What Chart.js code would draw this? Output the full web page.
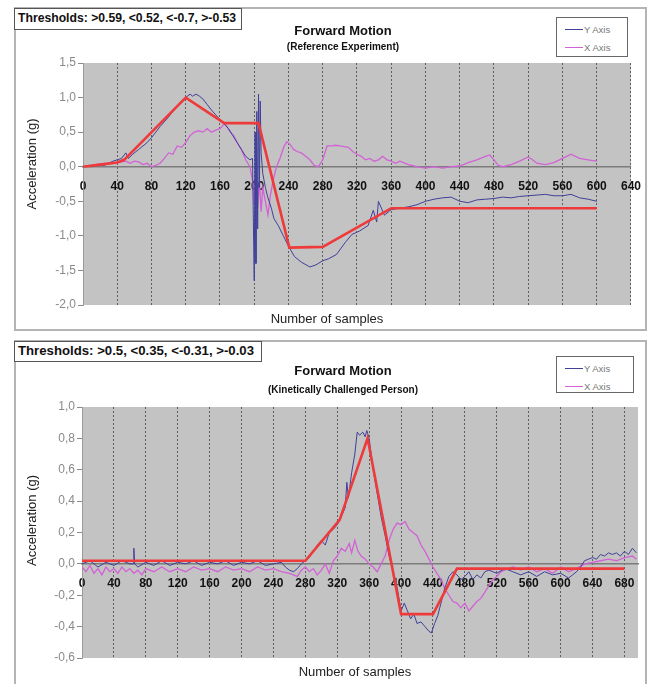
<!DOCTYPE html>
<html>
<head>
<meta charset="utf-8">
<script src="https://cdn.jsdelivr.net/npm/chart.js@4.4.0/dist/chart.umd.min.js"></script>
<style>
  body { margin: 0; background: #fff; width: 654px; height: 684px; position: relative; overflow: hidden;
         font-family: "Liberation Sans", Arial, sans-serif; }
  .panel { position: absolute; border: 2px solid #b4b4b4; box-sizing: border-box; }
  .wrap { position: absolute; }
  .thr { position: absolute; background: #fff; border: 1px solid #555; box-sizing: border-box;
         font-weight: bold; color: #111; white-space: nowrap; padding: 2px 0 0 3px; }
  .legend { position: absolute; background: #fff; border: 1px solid #666; box-sizing: border-box;
            padding: 2px 0 0 8px; font-size: 9.5px; color: #777; }
  .legend div { display: flex; align-items: center; height: 18px; }
  .legend .sw { display: inline-block; width: 18px; height: 0; border-top: 1px solid; margin-right: 1px; }
</style>
</head>
<body>
<div class="panel" style="left:14px;top:7px;width:633px;height:324px"></div>
<div class="panel" style="left:14px;top:340px;width:633px;height:360px"></div>

<div class="wrap" style="left:20px;top:10px;width:634px;height:320px"><canvas id="chartTop"></canvas></div>
<div class="wrap" style="left:20px;top:345px;width:634px;height:339px"><canvas id="chartBottom"></canvas></div>

<div class="thr" style="left:14px;top:8px;width:228px;height:22px;font-size:12.2px">Thresholds: &gt;0.59, &lt;0.52, &lt;-0.7, &gt;-0.53</div>
<div class="thr" style="left:14px;top:341px;width:248px;height:21px;font-size:13.2px;padding-top:1px">Thresholds: &gt;0.5, &lt;0.35, &lt;-0.31, &gt;-0.03</div>

<div class="legend" id="legendTop" style="left:556px;top:17px;width:72px;height:40px"></div>
<div class="legend" id="legendBottom" style="left:556px;top:356px;width:78px;height:37px"></div>

<script>
// Forward motion accelerometer traces, two experiments

// --- reference experiment (top) ---
const topYAxisX = [0, 5, 10, 15, 20, 25, 30, 35, 40, 45, 50, 53, 58, 65, 70, 75, 80, 85, 90, 95,
  100, 105, 110, 115, 120, 125, 128, 132, 136, 140, 145, 150, 155, 160, 165, 170, 175, 180, 185, 190,
  195, 198, 199, 200, 201, 202, 203, 204, 205, 206, 207, 208, 210, 213, 216, 220, 223, 228, 234, 240,
  247, 255, 265, 272, 280, 287, 296, 306, 314, 323, 333, 339, 343, 345, 352, 360, 370, 380, 390, 400,
  410, 420, 430, 440, 450, 460, 470, 480, 490, 500, 510, 520, 530, 540, 550, 560, 570, 580, 590, 600];
const topYAxisY = [0.0, 0.01, 0.0, 0.02, 0.03, 0.02, 0.05, 0.08, 0.1, 0.12, 0.2, 0.12, 0.18, 0.25, 0.3, 0.35, 0.42, 0.5, 0.58, 0.65,
  0.72, 0.8, 0.88, 0.95, 1.0, 1.05, 1.02, 1.05, 1.02, 0.98, 0.9, 0.82, 0.75, 0.68, 0.62, 0.55, 0.45, 0.35, 0.25, 0.15,
  0.1, 0.12, -0.8, -1.65, 0.5, -1.4, 0.8, -0.9, 1.05, -0.3, 0.95, 0.2, -0.1, -0.3, -0.45, -0.6, -0.75, -0.85, -1.0, -1.15,
  -1.3, -1.38, -1.45, -1.42, -1.36, -1.33, -1.27, -1.1, -0.98, -0.93, -0.85, -0.63, -0.8, -0.5, -0.7, -0.62, -0.6, -0.58, -0.55, -0.5,
  -0.47, -0.45, -0.44, -0.5, -0.52, -0.48, -0.47, -0.46, -0.44, -0.45, -0.43, -0.42, -0.41, -0.4, -0.42, -0.42, -0.4, -0.45, -0.47, -0.5];

const topXAxisX = [0, 10, 20, 30, 40, 50, 55, 60, 65, 70, 75, 80, 85, 90, 95, 100, 105, 110, 115, 120,
  125, 130, 135, 140, 145, 150, 155, 160, 165, 168, 172, 176, 180, 185, 190, 195, 198, 200, 202, 204,
  206, 208, 210, 213, 216, 219, 222, 226, 230, 235, 238, 242, 246, 250, 255, 260, 265, 270, 275, 280,
  285, 290, 295, 300, 305, 310, 315, 320, 325, 330, 335, 340, 345, 350, 355, 360, 365, 370, 380, 390,
  400, 410, 420, 430, 440, 450, 460, 470, 475, 480, 485, 490, 500, 510, 520, 525, 530, 540, 550, 560,
  565, 570, 575, 580, 590, 600];
const topXAxisY = [0.0, 0.02, 0.04, 0.05, 0.06, 0.08, 0.05, 0.08, 0.07, 0.03, 0.05, 0.0, 0.02, 0.05, 0.12, 0.2, 0.18, 0.3, 0.28, 0.35,
  0.45, 0.5, 0.52, 0.5, 0.55, 0.5, 0.53, 0.55, 0.62, 0.58, 0.5, 0.45, 0.35, 0.25, 0.1, 0.0, -0.2, -0.55, -0.1, -0.6,
  -0.2, -0.65, -0.3, -0.5, -0.7, -0.4, -0.2, 0.0, 0.12, 0.3, 0.36, 0.32, 0.25, 0.22, 0.2, 0.15, 0.1, 0.02, 0.0, 0.1,
  0.3, 0.3, 0.31, 0.3, 0.29, 0.28, 0.22, 0.18, 0.15, 0.1, 0.12, 0.08, 0.1, 0.15, 0.1, 0.08, 0.05, 0.08, 0.03, 0.0,
  -0.02, 0.0, -0.02, 0.0, 0.01, 0.06, 0.1, 0.15, 0.17, 0.1, 0.02, 0.0, 0.03, 0.08, 0.14, 0.1, 0.05, 0.03, 0.06, 0.12,
  0.15, 0.18, 0.15, 0.12, 0.1, 0.08];

const topThresholdX = [0, 20, 40, 48, 120, 165, 205, 241, 280, 360, 600];
const topThresholdY = [0.0, 0.03, 0.06, 0.1, 1.0, 0.63, 0.63, -1.17, -1.16, -0.6, -0.6];

const topYTicks = { min: -2.0, max: 1.5, step: 0.5 };
const topXTicks = { min: 0, max: 640, step: 40 };

// --- kinetically challenged person (bottom) ---
const botYAxisX = [0, 10, 20, 30, 40, 50, 60, 64, 65, 66, 70, 80, 90, 100, 110, 120, 130, 140, 150, 160,
  170, 180, 190, 200, 210, 220, 230, 240, 250, 255, 260, 265, 270, 275, 280, 285, 290, 295, 300, 305,
  310, 315, 320, 325, 330, 332, 334, 338, 342, 345, 348, 352, 355, 357, 360, 365, 370, 375, 380, 385,
  390, 395, 400, 404, 408, 412, 416, 420, 425, 430, 435, 438, 442, 446, 450, 455, 460, 465, 470, 475,
  480, 485, 490, 495, 500, 505, 510, 520, 530, 540, 550, 560, 570, 580, 590, 600, 610, 615, 620, 625,
  630, 635, 640, 645, 650, 655, 660, 665, 670, 675, 680, 685, 690, 695];
const botYAxisY = [0.0, 0.02, -0.02, 0.01, -0.01, 0.02, 0.0, 0.0, 0.1, 0.0, -0.02, 0.01, -0.01, 0.02, -0.01, 0.01, 0.0, 0.02, -0.01, 0.01,
  0.0, 0.02, -0.01, 0.01, 0.0, 0.02, -0.01, 0.0, 0.01, -0.02, -0.04, -0.05, -0.03, 0.0, 0.02, 0.04, 0.08, 0.12, 0.15, 0.12,
  0.2, 0.22, 0.25, 0.3, 0.36, 0.52, 0.42, 0.58, 0.7, 0.84, 0.82, 0.84, 0.81, 0.85, 0.8, 0.6, 0.45, 0.3, 0.18, 0.05,
  -0.05, -0.15, -0.3, -0.25, -0.3, -0.35, -0.32, -0.38, -0.37, -0.4, -0.43, -0.44, -0.38, -0.33, -0.25, -0.15, -0.08, -0.05, -0.07, -0.1,
  -0.08, -0.05, -0.1, -0.07, -0.09, -0.05, -0.04, -0.06, -0.03, -0.05, -0.07, -0.05, -0.08, -0.05, -0.07, -0.06, -0.09, -0.07, -0.05, -0.02,
  0.02, 0.03, 0.04, 0.03, 0.06, 0.05, 0.07, 0.06, 0.07, 0.05, 0.08, 0.06, 0.1, 0.07];

const botXAxisX = [0, 5, 10, 15, 20, 25, 30, 35, 40, 45, 50, 55, 60, 65, 70, 75, 80, 90, 100, 110,
  120, 130, 140, 150, 160, 170, 180, 190, 200, 210, 220, 230, 240, 250, 260, 270, 275, 280, 285, 290,
  295, 300, 305, 310, 315, 320, 325, 330, 335, 338, 342, 346, 350, 355, 360, 365, 370, 375, 380, 385,
  390, 395, 400, 405, 410, 415, 420, 425, 430, 435, 440, 445, 450, 455, 460, 465, 470, 475, 480, 485,
  490, 495, 500, 505, 510, 515, 520, 525, 530, 540, 550, 560, 570, 580, 590, 600, 610, 620, 630, 640,
  650, 660, 670, 680, 690, 695];
const botXAxisY = [-0.02, -0.05, -0.01, -0.06, -0.03, -0.07, -0.02, -0.05, -0.03, -0.06, -0.02, -0.05, -0.03, -0.06, -0.04, -0.07, -0.03, -0.05, -0.02, -0.05,
  -0.03, -0.05, -0.02, -0.04, -0.03, -0.05, -0.02, -0.04, -0.03, -0.05, -0.02, -0.04, -0.03, -0.05, -0.06, -0.08, -0.04, -0.02, -0.05, -0.03,
  -0.07, -0.04, 0.0, -0.06, 0.02, 0.05, 0.1, 0.08, 0.13, 0.07, 0.15, 0.08, 0.05, 0.03, 0.0, -0.02, -0.05, 0.0, 0.05, 0.15,
  0.22, 0.26, 0.25, 0.27, 0.22, 0.2, 0.18, 0.12, 0.08, 0.03, -0.02, -0.06, -0.1, -0.16, -0.2, -0.24, -0.25, -0.28, -0.25, -0.3,
  -0.27, -0.24, -0.22, -0.18, -0.14, -0.1, -0.08, -0.05, -0.04, -0.02, -0.04, -0.02, -0.05, -0.03, -0.06, -0.02, -0.05, -0.03, 0.0, 0.01,
  0.02, 0.03, 0.02, 0.04, 0.05, 0.03];

const botThresholdX = [0, 280, 323, 358, 400, 440, 470, 680];
const botThresholdY = [0.02, 0.02, 0.28, 0.8, -0.32, -0.32, -0.03, -0.03];

const botYTicks = { min: -0.6, max: 1.0, step: 0.2 };
const botXTicks = { min: 0, max: 697, step: 40 };

const FONT = '"Liberation Sans", Arial, sans-serif';
Chart.defaults.font.family = FONT;

const pairs = (xs, ys) => xs.map((x, i) => ({ x, y: ys[i] }));
const comma = v => (Math.abs(v) < 1e-9 ? 0 : v).toFixed(1).replace('.', ',');

const plotBg = {
  id: 'plotBg',
  beforeDraw(chart, args, opts) {
    const { ctx, chartArea: a } = chart;
    ctx.save();
    ctx.fillStyle = opts.color;
    ctx.fillRect(a.left, a.top, a.right - a.left, a.bottom - a.top);
    ctx.restore();
  }
};

// axis captions placed the way the spreadsheet put them
const captions = {
  id: 'captions',
  afterDraw(chart, args, opts) {
    const { ctx, chartArea: a } = chart;
    ctx.save();
    ctx.fillStyle = '#222';
    ctx.textAlign = 'center';
    ctx.textBaseline = 'middle';
    ctx.font = '13px ' + FONT;
    ctx.fillText(opts.xTitle, (a.left + a.right) / 2 + opts.xShift, a.bottom + opts.xGap);
    ctx.translate(opts.yTitleX, (a.top + a.bottom) / 2 + opts.yShift);
    ctx.rotate(-Math.PI / 2);
    ctx.fillText(opts.yTitle, 0, 0);
    ctx.restore();
  }
};

const htmlLegend = {
  id: 'htmlLegend',
  afterUpdate(chart, args, opts) {
    const box = document.getElementById(opts.containerID);
    box.innerHTML = '';
    chart.options.plugins.legend.labels.generateLabels(chart)
      .filter(it => !chart.data.datasets[it.datasetIndex].hideInLegend)
      .forEach(it => {
        const row = document.createElement('div');
        const sw = document.createElement('span');
        sw.className = 'sw';
        sw.style.borderTopColor = it.strokeStyle;
        row.appendChild(sw);
        row.appendChild(document.createTextNode(it.text));
        box.appendChild(row);
      });
  }
};

function makeChart(id, s) {
  return new Chart(document.getElementById(id), {
    type: 'line',
    data: {
      datasets: [
        { label: 'Y Axis', data: pairs(s.yx, s.yy), borderColor: '#40409a', borderWidth: 1, order: 1 },
        { label: 'X Axis', data: pairs(s.xx, s.xy), borderColor: '#d262d6', borderWidth: 1.3, order: 2 },
        { label: 'Threshold', data: pairs(s.tx, s.ty), borderColor: '#ee3a3a', borderWidth: 2.6, order: 0, hideInLegend: true }
      ]
    },
    options: {
      responsive: true,
      maintainAspectRatio: false,
      animation: false,
      elements: { point: { radius: 0 }, line: { tension: 0 } },
      layout: { padding: { left: s.padL, right: s.padR, top: 0, bottom: s.padB } },
      plugins: {
        legend: { display: false },
        tooltip: { enabled: false },
        title: {
          display: true, text: 'Forward Motion', color: '#111',
          font: { size: 13, weight: 'bold' }, padding: s.titlePad
        },
        subtitle: {
          display: true, text: s.subtitle, color: '#111',
          font: { size: 10, weight: 'bold' }, padding: s.subPad
        },
        plotBg: { color: '#c3c3c3' },
        captions: { xTitle: 'Number of samples', xShift: s.xCapShift, xGap: s.xCapGap,
                    yTitle: 'Acceleration (g)', yTitleX: s.yCapX, yShift: s.yCapShift },
        htmlLegend: { containerID: s.legendId }
      },
      scales: {
        x: {
          type: 'linear',
          position: { y: 0 },
          min: s.xt.min, max: s.xt.max,
          afterFit: sc => { sc.height = 0; },
          grid: { color: 'rgba(60,60,60,0.75)', lineWidth: 1, drawTicks: false },
          border: { color: '#7c7c7c', width: 1.5, dash: [2, 2] },
          ticks: {
            stepSize: s.xt.step, includeBounds: false, padding: 13, maxRotation: 0, autoSkip: false,
            color: '#111', font: { size: 12, weight: 'bold' },
            callback: v => String(v)
          }
        },
        y: {
          type: 'linear',
          min: s.yt.min, max: s.yt.max,
          afterFit: sc => { sc.width = s.yAxisW; },
          grid: { drawOnChartArea: false, drawTicks: true, tickLength: 5, tickColor: '#8a8a8a' },
          border: { color: '#9a9a9a', width: 1 },
          ticks: {
            stepSize: s.yt.step, padding: 2, color: '#8a8a8a', font: { size: 12 },
            callback: v => comma(v)
          }
        }
      }
    },
    plugins: [plotBg, captions, htmlLegend]
  });
}

makeChart('chartTop', {
  yx: topYAxisX, yy: topYAxisY, xx: topXAxisX, xy: topXAxisY, tx: topThresholdX, ty: topThresholdY,
  yt: topYTicks, xt: topXTicks, subtitle: '(Reference Experiment)',
  padL: 34, padR: 22, padB: 25, yAxisW: 29,
  titlePad: { top: 14, bottom: 2 }, subPad: { top: 0, bottom: 9.4 },
  xCapShift: -30, xCapGap: 14, yCapX: 12, yCapShift: -20, legendId: 'legendTop'
});

makeChart('chartBottom', {
  yx: botYAxisX, yy: botYAxisY, xx: botXAxisX, xy: botXAxisY, tx: botThresholdX, ty: botThresholdY,
  yt: botYTicks, xt: botXTicks, subtitle: '(Kinetically Challenged Person)',
  padL: 28, padR: 16, padB: 26, yAxisW: 34,
  titlePad: { top: 19, bottom: 5 }, subPad: { top: 0, bottom: 10.4 },
  xCapShift: -5, xCapGap: 14, yCapX: 12, yCapShift: -12, legendId: 'legendBottom'
});
</script>
</body>
</html>
